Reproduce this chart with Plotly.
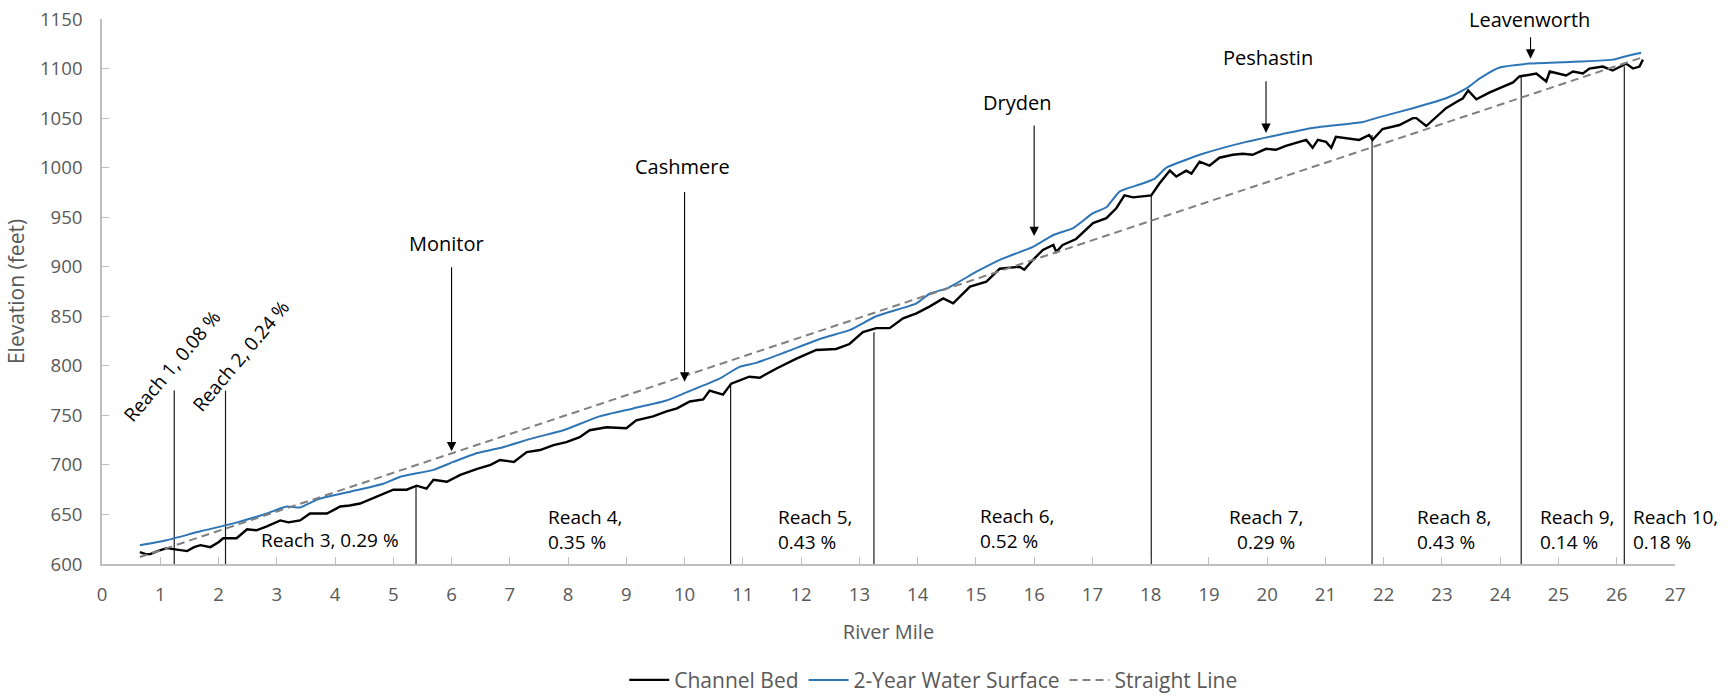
import plotly.graph_objects as go

# ---------------- data ----------------
bed_mile = [0.65, 0.75, 0.83, 0.95, 1.11, 1.25, 1.46, 1.58, 1.69, 1.86, 2.0, 2.08, 2.31, 2.49, 2.65,
            2.83, 3.06, 3.20, 3.40, 3.57, 3.86, 4.09, 4.25, 4.43, 4.60, 4.72, 5.00, 5.23, 5.40, 5.57,
            5.69, 5.92, 6.15, 6.44, 6.67, 6.83, 7.07, 7.29, 7.52, 7.75, 7.97, 8.20, 8.37, 8.66, 9.00,
            9.17, 9.46, 9.69, 9.87, 10.09, 10.32, 10.43, 10.66, 10.80, 11.11, 11.29, 11.57, 11.91,
            12.26, 12.60, 12.83, 13.06, 13.29, 13.52, 13.75, 13.98, 14.21, 14.44, 14.61, 14.90, 15.18,
            15.41, 15.75, 15.83, 15.98, 16.15, 16.33, 16.38, 16.49, 16.72, 16.84, 17.01, 17.24, 17.41,
            17.55, 17.70, 18.01, 18.15, 18.33, 18.44, 18.61, 18.70, 18.84, 19.01, 19.18, 19.41, 19.58,
            19.75, 19.98, 20.15, 20.32, 20.44, 20.67, 20.78, 20.87, 21.01, 21.10, 21.18, 21.47, 21.58,
            21.75, 21.81, 21.98, 22.27, 22.50, 22.56, 22.73, 22.90, 23.07, 23.24, 23.36, 23.45, 23.59,
            23.82, 24.05, 24.22, 24.33, 24.62, 24.79, 24.85, 25.13, 25.25, 25.42, 25.53, 25.76, 25.93,
            26.16, 26.28, 26.39, 26.45]
bed_elev = [612, 610, 610, 613, 616, 615, 613, 617, 619, 617, 622, 626, 626, 635, 634,
            638, 644, 642, 644, 651, 651, 658, 659, 661, 665, 668, 675, 675, 679, 676,
            685, 683, 690, 696, 700, 705, 703, 713, 715, 720, 723, 728, 735, 738, 737,
            745, 749, 754, 757, 764, 766, 775, 771, 782, 789, 788, 797, 807,
            816, 817, 822, 834, 838, 838, 848, 853, 860, 868, 863, 880, 885,
            898, 900, 897, 907, 917, 922, 915, 922, 928, 935, 944, 949, 959,
            972, 970, 972, 984, 997, 991, 997, 994, 1006, 1002, 1010, 1013, 1014,
            1013, 1019, 1018, 1022, 1024, 1028, 1020, 1028, 1026, 1020, 1031, 1029, 1028,
            1033, 1028, 1039, 1043, 1050, 1050, 1042, 1051, 1060, 1066, 1070, 1078, 1069,
            1076, 1082, 1086, 1092, 1095, 1087, 1097, 1093, 1097, 1095, 1100, 1102, 1098,
            1105, 1100, 1102, 1109]

ws_mile = [0.65, 1.11, 1.69, 2.26, 2.83, 3.17, 3.40, 3.69, 4.26, 4.83, 5.12, 5.69, 6.03, 6.44, 6.83,
           7.40, 7.92, 8.54, 9.12, 9.69, 9.98, 10.60, 10.94, 11.23, 11.74, 12.37, 12.83, 13.29, 13.98,
           14.21, 14.50, 15.01, 15.41, 15.98, 16.33, 16.67, 17.01, 17.24, 17.47, 17.81, 18.07, 18.27,
           18.61, 18.84, 19.64, 20.78, 21.64, 21.93, 22.50, 23.07, 23.42, 23.65, 23.99, 24.50, 25.36,
           25.93, 26.16, 26.42]
ws_elev = [619, 624, 633, 641, 651, 658, 657, 665, 673, 681, 688, 695, 703, 712, 717,
           727, 735, 749, 757, 765, 772, 787, 799, 803, 814, 828, 836, 850, 863,
           873, 878, 895, 907, 920, 932, 939, 954, 960, 976, 983, 989, 1000,
           1008, 1013, 1026, 1040, 1046, 1051, 1060, 1070, 1080, 1090, 1101, 1105, 1107,
           1109, 1112.5, 1116]

straight_mile = [0.65, 26.45]
straight_elev = [607, 1111.5]

reach_bounds = [1.24, 2.12, 5.39, 10.79, 13.25, 18.01, 21.80, 24.36, 26.13]
reach_tops = [775, 775, 678, 782, 834, 972, 1033, 1093, 1102]

# rotated reach labels (reach 1, 2)
rot_labels = ["Reach 1, 0.08 %", "Reach 2, 0.24 %"]
rot_x = [1.20, 2.38]
rot_y = [800, 810]

# horizontal reach labels
reach_labels = ["Reach 3, 0.29 %", "Reach 4,<br>0.35 %", "Reach 5,<br>0.43 %", "Reach 6,<br>0.52 %",
                "Reach 7,<br>0.29 %", "Reach 8,<br>0.43 %", "Reach 9,<br>0.14 %", "Reach 10,<br>0.18 %"]
reach_lx = [3.92, 7.62, 11.57, 15.04, 19.98, 22.53, 24.64, 26.24]
reach_ly = [624, 635, 635, 636, 635, 635, 635, 635]
reach_anchor = ["center", "left", "left", "left", "center", "left", "left", "left"]

towns = ["Monitor", "Cashmere", "Dryden", "Peshastin", "Leavenworth"]
town_lx = [5.92, 9.96, 15.71, 20.01, 24.51]
town_ly = [923.5, 1001.6, 1066, 1111, 1149]
arrow_x = [6.0, 10.0, 16.0, 19.98, 24.52]
arrow_from = [901, 977, 1044, 1088.6, 1133]
arrow_to = [713.8, 784, 931, 1035, 1110]

FONT = "Open Sans"
GRAY = "#595959"
AX = "#bfbfbf"

fig = go.Figure()
fig.add_trace(go.Scatter(x=bed_mile, y=bed_elev, mode="lines", name="Channel Bed",
                         line=dict(color="#000000", width=2.4)))
fig.add_trace(go.Scatter(x=ws_mile, y=ws_elev, mode="lines", name="2-Year Water Surface",
                         line=dict(color="#2E75B6", width=2, shape="spline", smoothing=0.5)))
fig.add_trace(go.Scatter(x=straight_mile, y=straight_elev, mode="lines", name="Straight Line",
                         line=dict(color="#808080", width=2, dash="8px,5px")))

for bx, bt in zip(reach_bounds, reach_tops):
    fig.add_shape(type="line", xref="x", yref="y", x0=bx, x1=bx, y0=600, y1=bt,
                  line=dict(color="#1a1a1a", width=1.2), layer="below")

ann = []
for t, x, y in zip(rot_labels, rot_x, rot_y):
    ann.append(dict(x=x, y=y, xref="x", yref="y", text=t, showarrow=False, textangle=-50,
                    font=dict(family=FONT, size=19, color="#000000")))
for t, x, y, a in zip(reach_labels, reach_lx, reach_ly, reach_anchor):
    ann.append(dict(x=x, y=y, xref="x", yref="y", text=t, showarrow=False, xanchor=a, align=a,
                    yanchor="middle", font=dict(family=FONT, size=19, color="#000000")))
for t, x, y in zip(towns, town_lx, town_ly):
    ann.append(dict(x=x, y=y, xref="x", yref="y", text=t, showarrow=False,
                    font=dict(family=FONT, size=20, color="#000000")))
for x, y0, y1 in zip(arrow_x, arrow_from, arrow_to):
    ann.append(dict(x=x, y=y1, ax=x, ay=y0, xref="x", yref="y", axref="x", ayref="y", text="",
                    showarrow=True, arrowhead=2, arrowsize=1.7, arrowwidth=1.1, arrowcolor="#000000",
                    standoff=0, startstandoff=0))

fig.update_layout(
    width=1734, height=697,
    margin=dict(l=102, r=59, t=19, b=133, autoexpand=False),
    paper_bgcolor="white", plot_bgcolor="white",
    font=dict(family=FONT, size=18.6, color=GRAY),
    annotations=ann,
    hovermode=False,
    showlegend=True,
    legend=dict(orientation="h", xref="container", yref="container", x=0.360, xanchor="left",
                y=0.024, yanchor="middle",
                font=dict(family=FONT, size=21, color=GRAY), itemwidth=40,
                bgcolor="rgba(0,0,0,0)"),
    xaxis=dict(range=[0, 27], tick0=0, dtick=1, showgrid=False, zeroline=False, automargin=False,
               showline=True, linecolor=AX, linewidth=1.5, ticks="inside", ticklen=7,
               tickcolor=AX, ticklabelstandoff=13, ticklabeloverflow="allow",
               tickfont=dict(family=FONT, size=18.6, color=GRAY),
               title=dict(text="River Mile", font=dict(family=FONT, size=20, color=GRAY), standoff=20)),
    yaxis=dict(range=[600, 1150], tick0=600, dtick=50, showgrid=False, zeroline=False, automargin=False,
               showline=True, linecolor=AX, linewidth=1.5, ticks="inside", ticklen=7,
               tickcolor=AX, ticklabelstandoff=14, ticklabeloverflow="allow",
               tickfont=dict(family=FONT, size=18.6, color=GRAY),
               title=dict(text="Elevation (feet)", font=dict(family=FONT, size=21, color=GRAY), standoff=10)),
)

# remove the browser's default 8px body margin so the figure fills the 1734x697 window exactly
fig.write_html("out.html", config={"displayModeBar": False},
               post_script="document.body.style.margin='0px';")
